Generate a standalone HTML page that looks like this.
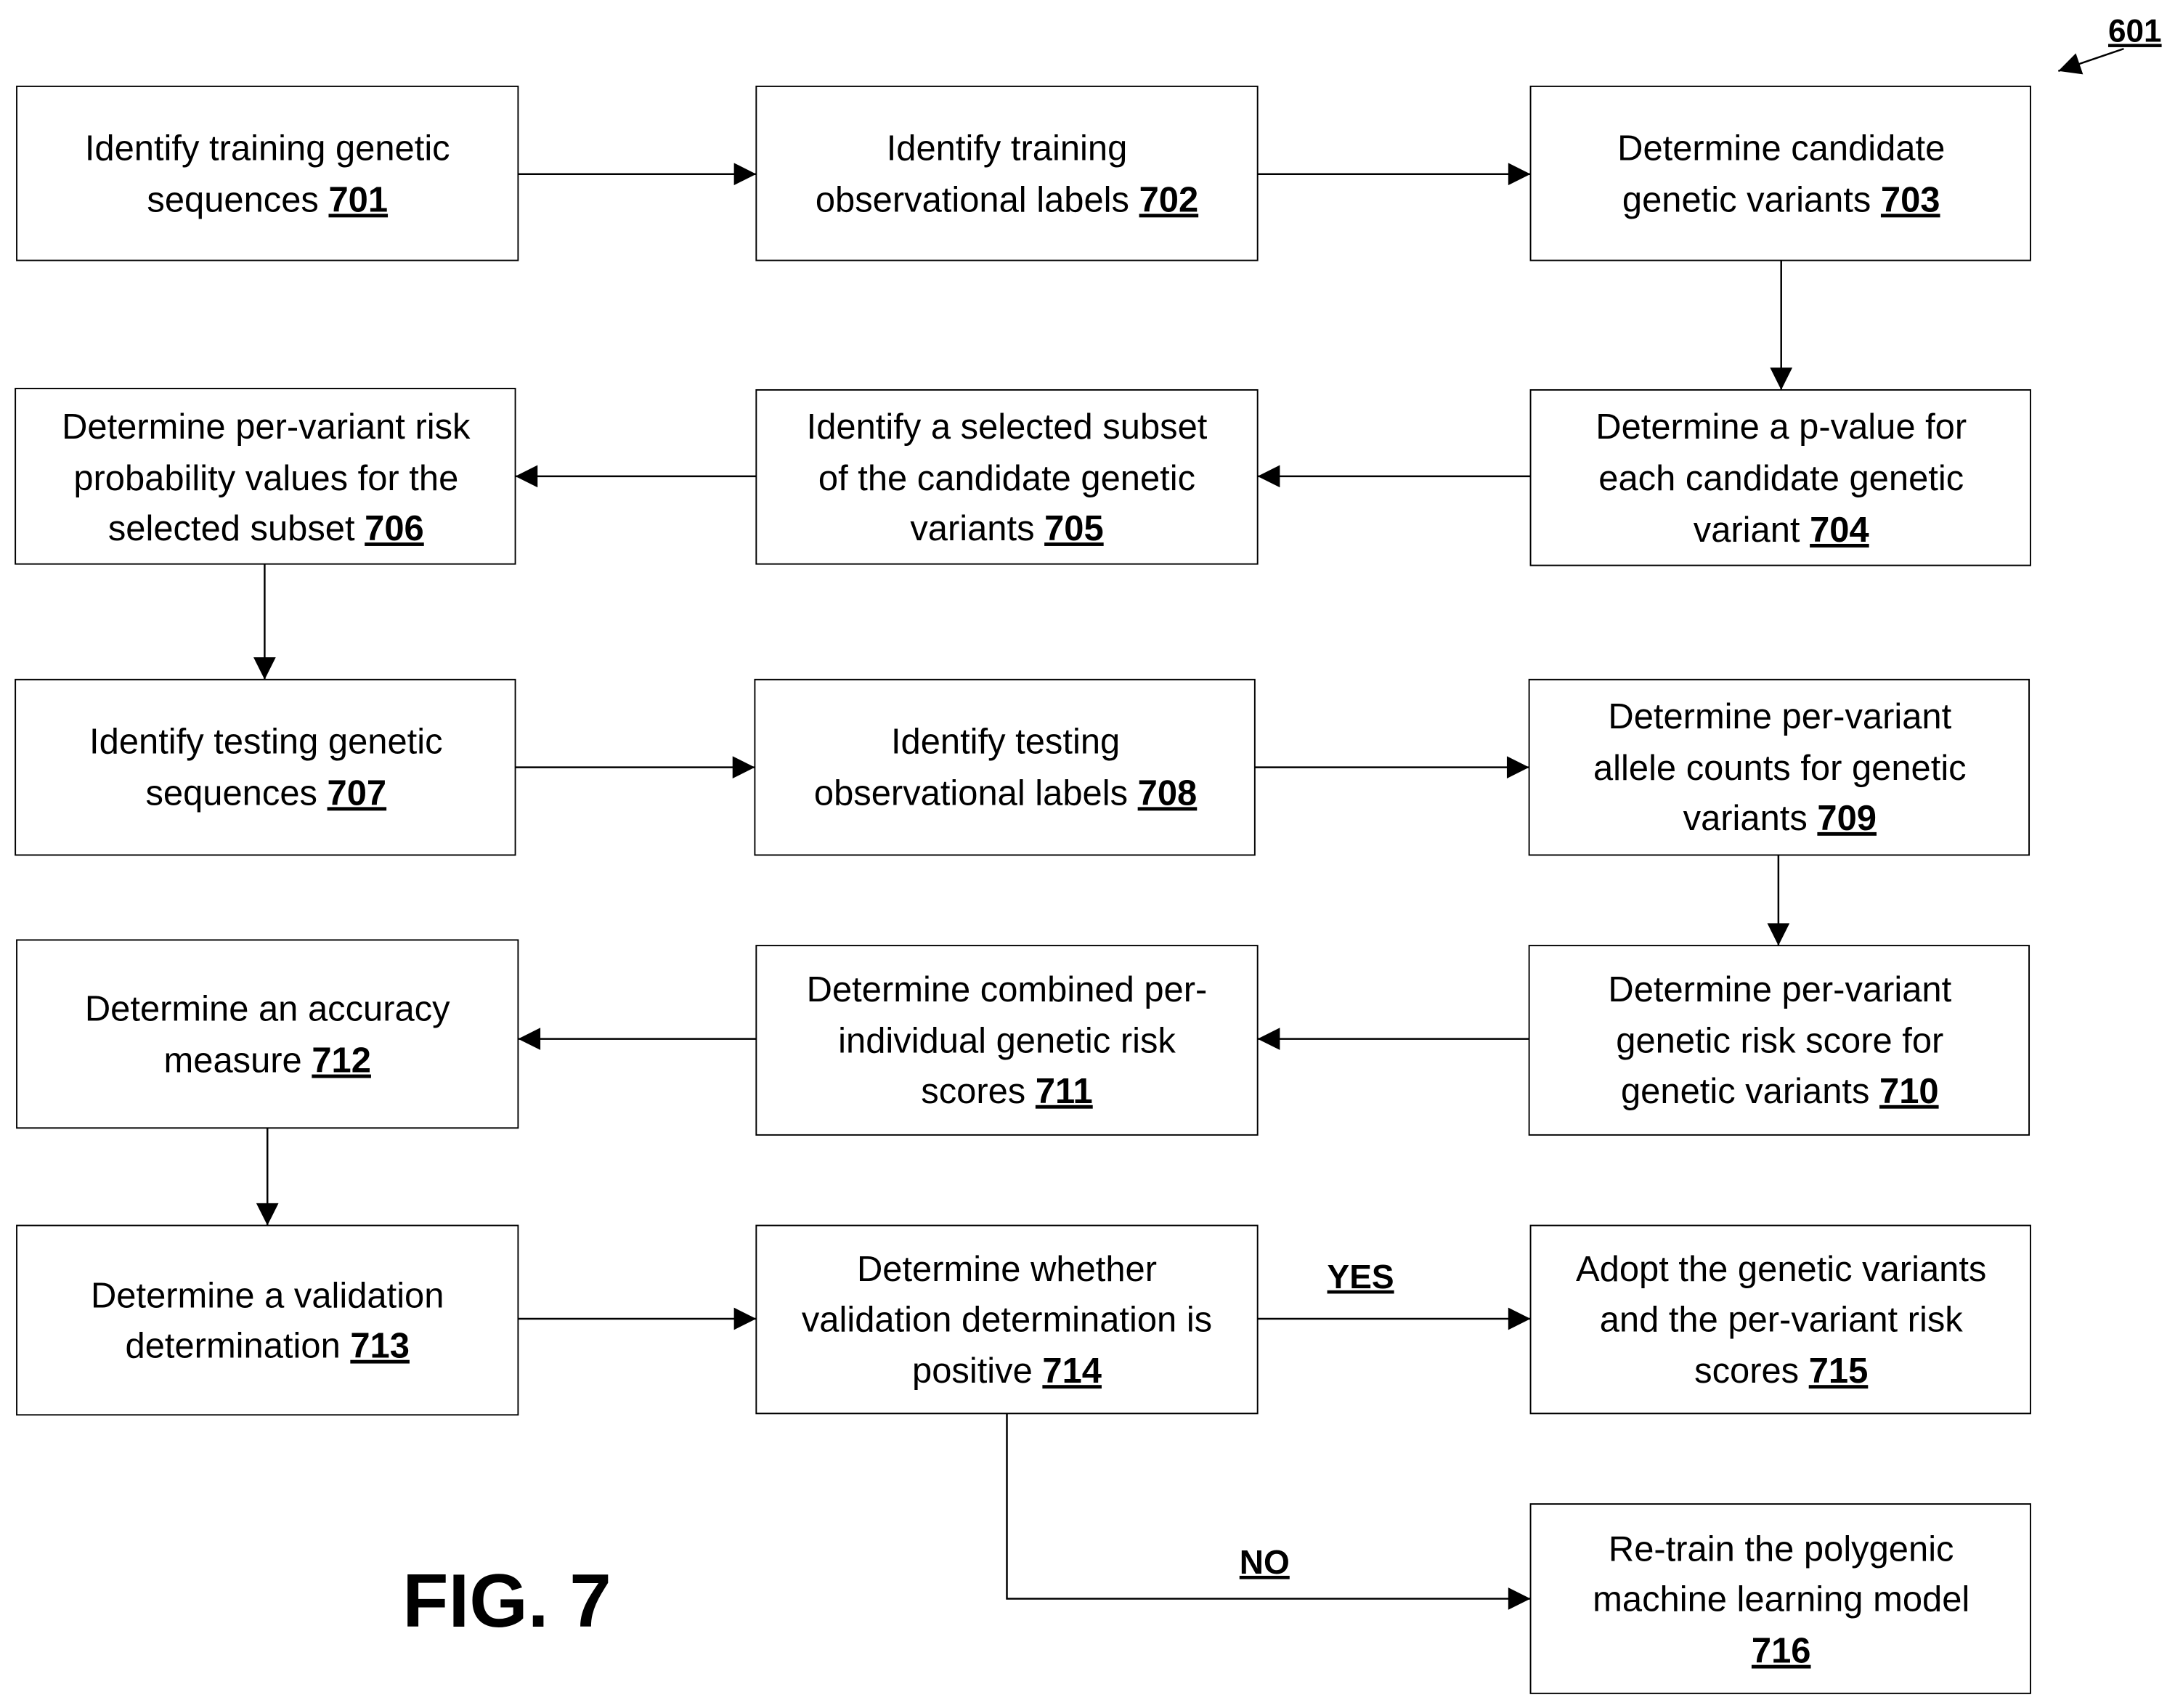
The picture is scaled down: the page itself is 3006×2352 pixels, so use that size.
<!DOCTYPE html>
<html><head><meta charset="utf-8"><style>
html,body{margin:0;padding:0;background:#fff;}
svg{display:block;}
text{font-family:"Liberation Sans",sans-serif;fill:#000;}
.t{font-size:25.5px;text-anchor:middle;}
.b{font-weight:bold;text-decoration:underline;}
</style></head><body>
<svg width="3006" height="2352" viewBox="0 0 1567.5 1226.5" xmlns="http://www.w3.org/2000/svg">
<defs><marker id="a" viewBox="0 0 10 10" refX="10" refY="5" markerWidth="20" markerHeight="16" markerUnits="userSpaceOnUse" orient="auto"><path d="M0,0L10,5L0,10z" fill="#000"/></marker></defs>
<g fill="none" stroke="#000" stroke-width="1">
<rect x="12" y="62" width="360" height="125"/>
<rect x="543" y="62" width="360" height="125"/>
<rect x="1099" y="62" width="359" height="125"/>
<rect x="1099" y="280" width="359" height="126"/>
<rect x="543" y="280" width="360" height="125"/>
<rect x="11" y="279" width="359" height="126"/>
<rect x="11" y="488" width="359" height="126"/>
<rect x="542" y="488" width="359" height="126"/>
<rect x="1098" y="488" width="359" height="126"/>
<rect x="1098" y="679" width="359" height="136"/>
<rect x="543" y="679" width="360" height="136"/>
<rect x="12" y="675" width="360" height="135"/>
<rect x="12" y="880" width="360" height="136"/>
<rect x="543" y="880" width="360" height="135"/>
<rect x="1099" y="880" width="359" height="135"/>
<rect x="1099" y="1080" width="359" height="136"/>
</g>
<g stroke="#000" stroke-width="1.3" marker-end="url(#a)">
<line x1="372" y1="125" x2="543" y2="125"/>
<line x1="903" y1="125" x2="1099" y2="125"/>
<line x1="1279" y1="187" x2="1279" y2="280"/>
<line x1="1099" y1="342" x2="903" y2="342"/>
<line x1="543" y1="342" x2="370" y2="342"/>
<line x1="190" y1="405" x2="190" y2="488"/>
<line x1="370" y1="551" x2="542" y2="551"/>
<line x1="901" y1="551" x2="1098" y2="551"/>
<line x1="1277" y1="614" x2="1277" y2="679"/>
<line x1="1098" y1="746" x2="903" y2="746"/>
<line x1="543" y1="746" x2="372" y2="746"/>
<line x1="192" y1="810" x2="192" y2="880"/>
<line x1="372" y1="947" x2="543" y2="947"/>
<line x1="903" y1="947" x2="1099" y2="947"/>
<polyline fill="none" points="723,1015 723,1148 1099,1148"/>
<line x1="1525" y1="35" x2="1478" y2="51"/>
</g>
<g class="t">
<text x="192" y="115">Identify training genetic</text>
<text x="192" y="152">sequences  <tspan class="b">701</tspan></text>
<text x="723" y="115">Identify training</text>
<text x="723" y="152">observational labels  <tspan class="b">702</tspan></text>
<text x="1279" y="115">Determine candidate</text>
<text x="1279" y="152">genetic variants  <tspan class="b">703</tspan></text>
<text x="1279" y="315">Determine a p-value for</text>
<text x="1279" y="352">each candidate genetic</text>
<text x="1279" y="389">variant  <tspan class="b">704</tspan></text>
<text x="723" y="315">Identify a selected subset</text>
<text x="723" y="352">of the candidate genetic</text>
<text x="723" y="388">variants  <tspan class="b">705</tspan></text>
<text x="191" y="315">Determine per-variant risk</text>
<text x="191" y="352">probability values for the</text>
<text x="191" y="388">selected subset  <tspan class="b">706</tspan></text>
<text x="191" y="541">Identify testing genetic</text>
<text x="191" y="578">sequences  <tspan class="b">707</tspan></text>
<text x="722" y="541">Identify testing</text>
<text x="722" y="578">observational labels  <tspan class="b">708</tspan></text>
<text x="1278" y="523">Determine per-variant</text>
<text x="1278" y="560">allele counts for genetic</text>
<text x="1278" y="596">variants  <tspan class="b">709</tspan></text>
<text x="1278" y="719">Determine per-variant</text>
<text x="1278" y="756">genetic risk score for</text>
<text x="1278" y="792">genetic variants   <tspan class="b">710</tspan></text>
<text x="723" y="719">Determine combined per-</text>
<text x="723" y="756">individual genetic risk</text>
<text x="723" y="792">scores   <tspan class="b">711</tspan></text>
<text x="192" y="733">Determine an accuracy</text>
<text x="192" y="770">measure  <tspan class="b">712</tspan></text>
<text x="192" y="939">Determine a validation</text>
<text x="192" y="975">determination  <tspan class="b">713</tspan></text>
<text x="723" y="920">Determine whether</text>
<text x="723" y="956">validation determination is</text>
<text x="723" y="993">positive  <tspan class="b">714</tspan></text>
<text x="1279" y="920">Adopt the genetic variants</text>
<text x="1279" y="956">and the per-variant risk</text>
<text x="1279" y="993">scores  <tspan class="b">715</tspan></text>
<text x="1279" y="1121">Re-train the polygenic</text>
<text x="1279" y="1157">machine learning model</text>
<text x="1279" y="1194"><tspan class="b">716</tspan></text>
<text x="977" y="925" class="b" style="font-size:24px">YES</text>
<text x="908" y="1130" class="b" style="font-size:24px">NO</text>
<text x="1533" y="30" class="b" style="font-size:23px">601</text>
<text x="364" y="1168" style="font-size:54px;font-weight:bold">FIG. 7</text>
</g>
</svg>
</body></html>
